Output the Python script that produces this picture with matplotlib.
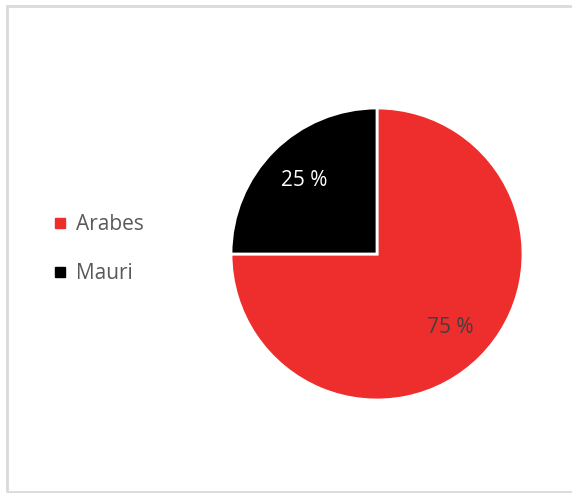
import matplotlib.pyplot as plt
from matplotlib.patches import Rectangle
from matplotlib.lines import Line2D

# Datos del gráfico
categorias = ["Arabes", "Mauri"]
valores = [75, 25]
colores = ["#EE2D2D", "#000000"]
colores_texto = ["#404040", "#FFFFFF"]

fig = plt.figure(figsize=(5.72, 4.93), dpi=100)
fig.patch.set_facecolor("white")

# Marco gris alrededor del gráfico
W, H = 572, 493
fig.patches.append(Rectangle((7 / W, 1 / H), (W + 10) / W, (492 - 6) / H,
                             transform=fig.transFigure, fill=False,
                             edgecolor="#DCDAD8", linewidth=2))

# Ejes del pastel (centro ~ (377, 254) px, radio ~ 146 px)
cx, cy, r = 377, H - 254, 146
ax = fig.add_axes([(cx - r) / W, (cy - r) / H, 2 * r / W, 2 * r / H])
wedges, _, autotexts = ax.pie(valores, colors=colores, startangle=90,
                              counterclock=False, radius=1,
                              autopct=lambda p: f"{p:.0f} %",
                              pctdistance=0.71,
                              wedgeprops=dict(edgecolor="white", linewidth=2))
for t, c in zip(autotexts, colores_texto):
    t.set_color(c)
    t.set_fontsize(15)
    t.set_fontfamily("Open Sans")
ax.set_xlim(-1.0, 1.0)
ax.set_ylim(-1.0, 1.0)
ax.set_aspect("equal")
ax.axis("off")

# Leyenda a la izquierda
handles = [Line2D([], [], marker="s", linestyle="none", markersize=6.5,
                  color=c) for c in colores]
leg = fig.legend(handles, categorias, loc="center left",
                 bbox_to_anchor=(55 / W, (H - 249) / H), frameon=False,
                 borderpad=0, borderaxespad=0,
                 handlelength=0.5, handletextpad=0.5, labelspacing=1.35,
                 prop={"family": "Open Sans", "size": 15})
for t in leg.get_texts():
    t.set_color("#595959")

fig.savefig("out.png", dpi=100)
